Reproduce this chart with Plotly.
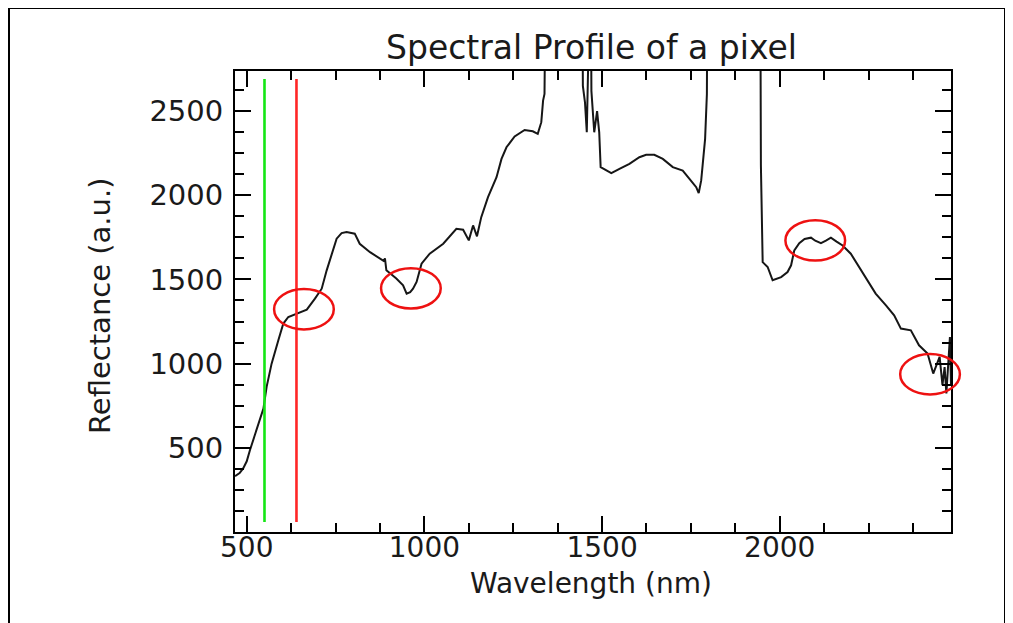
import plotly.graph_objects as go

# ---- data ----
wavelength = [467, 480, 490, 500, 509, 528, 547, 556, 570, 589, 603, 617, 641, 669, 692, 711, 725, 739,
              753, 767, 781, 804, 818, 847, 870, 885, 889, 893, 921, 940, 950, 960, 968, 978, 992, 1015,
              1053, 1090, 1109, 1125, 1137, 1148, 1160, 1179, 1203, 1217, 1231, 1254, 1282, 1305, 1319,
              1329, 1334, 1338, 1342, 1444, 1446, 1452, 1457, 1463, 1468, 1470, 1478, 1486, 1492, 1496,
              1512, 1526, 1549, 1577, 1605, 1624, 1647, 1671, 1699, 1727, 1746, 1765, 1772, 1779, 1783,
              1790, 1795, 1797, 1945, 1947, 1952, 1966, 1980, 2004, 2022, 2032, 2041, 2055, 2070, 2088,
              2100, 2116, 2130, 2144, 2160, 2177, 2200, 2224, 2247, 2270, 2299, 2322, 2341, 2369, 2392,
              2416, 2432, 2444, 2450, 2458, 2464, 2469, 2475, 2479, 2482]
reflectance = [332, 350, 378, 420, 486, 605, 733, 862, 1000, 1139, 1238, 1277, 1297, 1321, 1386, 1445, 1554, 1653,
               1742, 1775, 1781, 1772, 1712, 1662, 1633, 1610, 1625, 1554, 1505, 1465, 1416, 1425, 1445, 1485, 1594, 1653,
               1712, 1801, 1795, 1732, 1821, 1756, 1870, 1989, 2107, 2216, 2285, 2349, 2388, 2380, 2365,
               2434, 2562, 2602, 3500, 3500, 2650, 2550, 2374, 3500, 3500, 2620, 2374, 2500, 2374, 2167,
               2147, 2131, 2157, 2187, 2226, 2240, 2240, 2216, 2167, 2147, 2098, 2048, 2013, 2088, 2177,
               2335, 2600, 3500, 3500, 2177, 1603, 1574, 1495, 1514, 1544, 1584, 1673, 1716, 1740, 1748,
               1730, 1716, 1730, 1748, 1725, 1702, 1653, 1574, 1495, 1416, 1346, 1287, 1208, 1198, 1109,
               1060, 941, 1000, 1040, 872, 980, 823, 1060, 1158, 870]

band_wavelengths = [550, 640]          # green and red band markers
band_colors = ["#14e614", "#ff2626"]
band_extent = [60, 2690]               # reflectance span of the band lines

circle_centers_x = [661, 962, 2100, 2423]   # highlighted features (nm)
circle_centers_y = [1323, 1447, 1732, 937]  # (a.u.)
circle_half_w = 84                          # nm
circle_half_h = 120                         # a.u.

x_ticks = [500, 1000, 1500, 2000]
y_ticks = [500, 1000, 1500, 2000, 2500]
x_range = [467, 2482]
y_range = [0, 2738]

# the page body adds an 8px margin: work in screen pixels and convert
OFF = 8
W, H = 1013 - OFF, 623 - OFF
PL, PR, PT, PB = 235, 951, 71, 532          # plot area in screen pixels
L, T = PL - OFF, PT - OFF
R, B = W - (PR - OFF), H - (PB - OFF)

font = "DejaVu Sans"
txt = "#1a1a1a"

fig = go.Figure()
fig.add_trace(go.Scatter(x=wavelength, y=reflectance, mode="lines",
                         line=dict(color="#161616", width=2), showlegend=False))
for wl, col in zip(band_wavelengths, band_colors):
    fig.add_trace(go.Scatter(x=[wl, wl], y=band_extent, mode="lines",
                             line=dict(color=col, width=2.6), showlegend=False))

def px(v):
    return (v - x_range[0]) / (x_range[1] - x_range[0])
def py(v):
    return (v - y_range[0]) / (y_range[1] - y_range[0])

shapes = []
for cx, cy in zip(circle_centers_x, circle_centers_y):
    shapes.append(dict(type="circle", xref="paper", yref="paper",
                       x0=px(cx - circle_half_w), x1=px(cx + circle_half_w),
                       y0=py(cy - circle_half_h), y1=py(cy + circle_half_h),
                       line=dict(color="#ee1111", width=2.5), layer="above"))

# screen pixel -> paper fraction
def fx(p):
    return (p - PL) / (PR - PL)
def fy(p):
    return (PB - p) / (PB - PT)

shapes.append(dict(type="rect", xref="paper", yref="paper",
                   x0=fx(9), x1=fx(1005), y0=fy(660), y1=fy(8),
                   line=dict(color="black", width=2), layer="above"))

axis_common = dict(showline=True, linewidth=2, linecolor="black", mirror="ticks",
                   ticks="inside", ticklen=16, tickwidth=2, tickcolor="black",
                   showgrid=False, zeroline=False)

fig.update_xaxes(range=x_range, tickmode="array", tickvals=x_ticks,
                 minor=dict(ticks="inside", ticklen=9, tickwidth=2, tickcolor="black",
                            tick0=500, dtick=125, showgrid=False),
                 tickfont=dict(family=font, size=28, color=txt),
                 ticklabelstandoff=-11, **axis_common)
fig.update_yaxes(range=y_range, tickmode="array", tickvals=y_ticks,
                 minor=dict(ticks="inside", ticklen=9, tickwidth=2, tickcolor="black",
                            tick0=0, dtick=125, showgrid=False),
                 tickfont=dict(family=font, size=29, color=txt),
                 ticklabelstandoff=4, **axis_common)

annotations = [
    dict(text="Spectral Profile of a pixel", xref="paper", yref="paper",
         x=fx(591), y=fy(47), xanchor="center", yanchor="middle", showarrow=False,
         font=dict(family=font, size=33, color=txt)),
    dict(text="Wavelength (nm)", xref="paper", yref="paper",
         x=fx(591), y=fy(583), xanchor="center", yanchor="middle", showarrow=False,
         font=dict(family=font, size=28, color=txt)),
    dict(text="Reflectance (a.u.)", xref="paper", yref="paper",
         x=fx(100), y=fy(306), xanchor="center", yanchor="middle", showarrow=False,
         textangle=-90, font=dict(family=font, size=29, color=txt)),
]

fig.update_layout(width=W, height=H, autosize=False,
                  margin=dict(l=L, r=R, t=T, b=B, pad=0),
                  paper_bgcolor="white", plot_bgcolor="white",
                  shapes=shapes, annotations=annotations, showlegend=False)

fig.write_html("out.html")
